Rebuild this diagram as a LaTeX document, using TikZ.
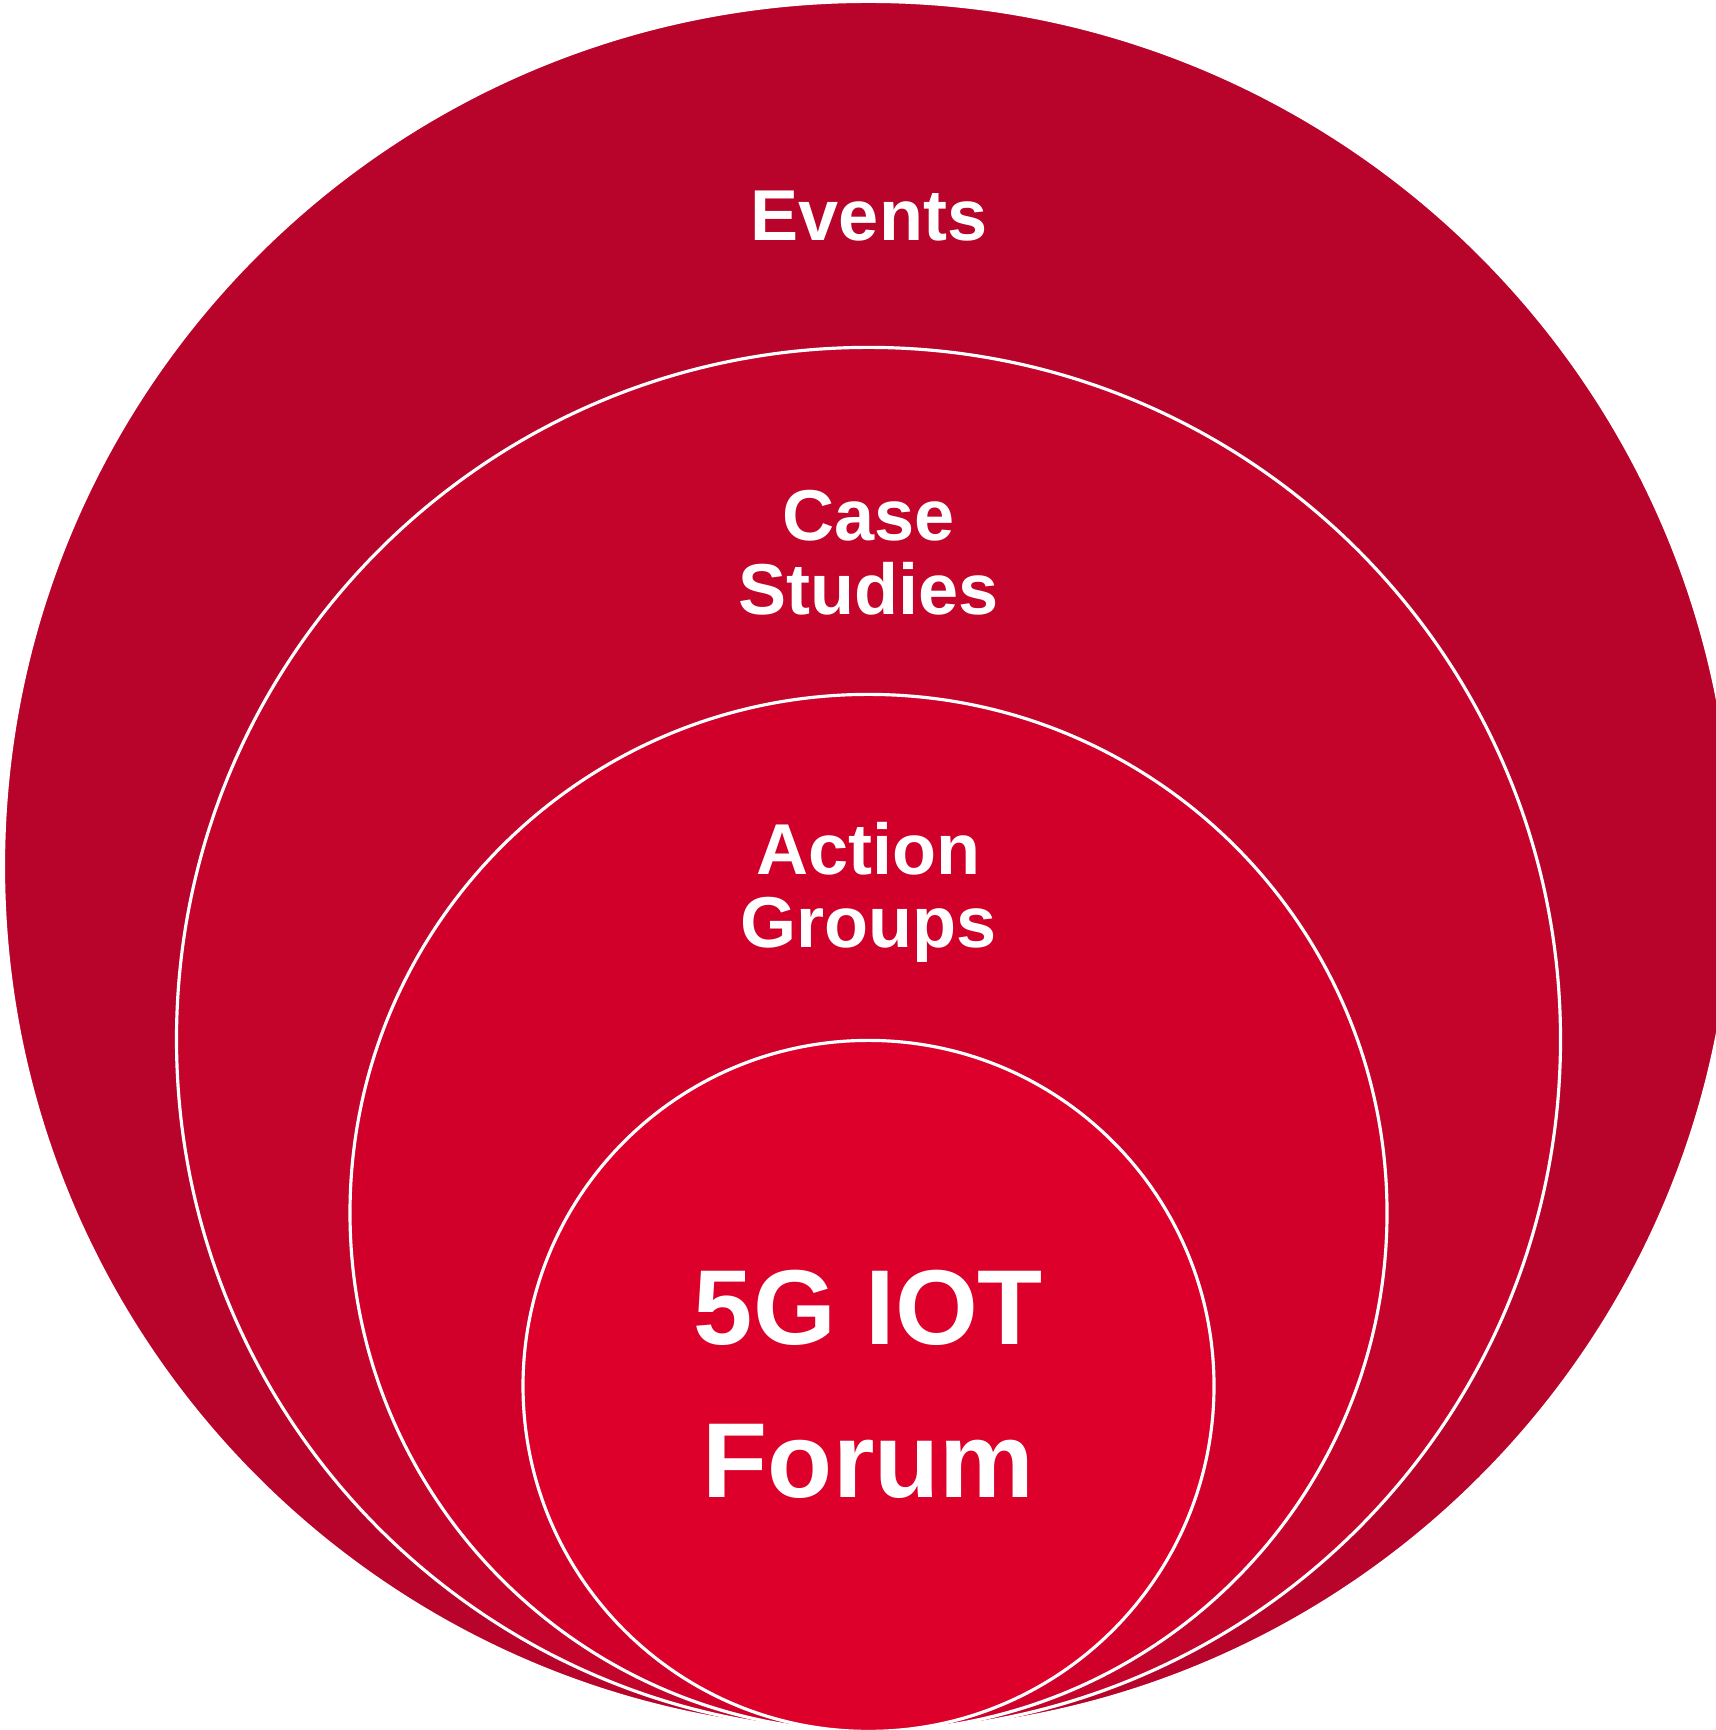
\documentclass[tikz,border=0pt]{standalone}
\usepackage{fontspec}
\setmainfont{Liberation Sans}
\usetikzlibrary{positioning}

\definecolor{eventsred}{RGB}{184,4,42}
\definecolor{casered}{RGB}{196,4,43}
\definecolor{actionred}{RGB}{208,0,42}
\definecolor{forumred}{RGB}{221,0,43}

\tikzset{
 ring/.style={circle,anchor=south,inner sep=0pt,draw=white,line width=.9pt},
 ringtext/.style={text=white,align=center,anchor=base,
  font=\bfseries\fontsize{20.5}{21}\selectfont},
 forumtext/.style={ringtext,font=\bfseries\fontsize{30.3}{43.6}\selectfont}
}

\newcommand{\ring}[3]{%
 \node ({#1}) [ring,minimum size={#2},fill={#3}] at (base) {};%
}

\begin{document}
\begin{tikzpicture}
   \useasboundingbox (0,0) rectangle (17.15,17.30);
   \coordinate (base) at (8.685,-0.03);
   % nested rings, all touching at the bottom
   \ring{events}{17.30cm}{eventsred}
   \ring{cases}{13.84cm}{casered}
   \ring{actions}{10.37cm}{actionred}
   \ring{forum}{6.91cm}{forumred}
   % labels (base = last line)
   \node (eventslabel) [ringtext] at (8.69,14.894) {Events};
   \node (caseslabel) [ringtext] at (8.685,11.153) {Case\\Studies};
   \node (actionslabel) [ringtext] at (8.685,7.82) {Action\\Groups};
   \node (forumlabel) [forumtext] at (8.685,2.324) {5G IOT\\Forum};
\end{tikzpicture}
\end{document}
